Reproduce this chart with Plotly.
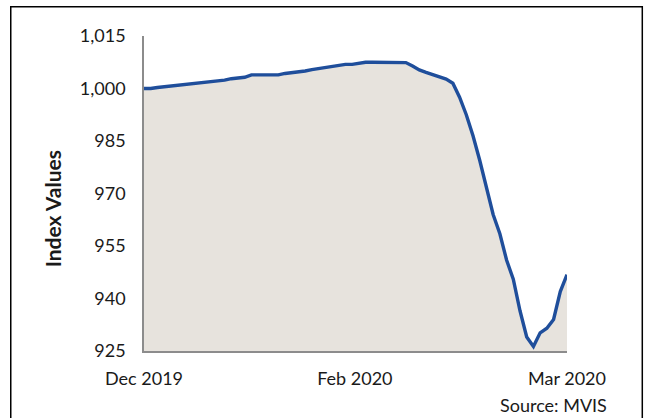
"""
MVIS index values, Dec 2019 - Mar 2020, filled line chart.
"""

import plotly.graph_objects as go

# daily index values
index_values = [
    1000.0, 1000.0, 1000.3, 1000.5, 1000.8, 1001.0, 1001.2, 1001.2, 1001.5, 1001.8,
    1002.0, 1002.2, 1002.4, 1002.8, 1003.0, 1003.2, 1003.9, 1003.9, 1003.9, 1003.9,
    1003.9, 1004.3, 1004.5, 1004.8, 1005.0, 1005.4, 1005.7, 1006.0, 1006.2, 1006.5,
    1006.9, 1006.9, 1007.2, 1007.5, 1007.5, 1007.5, 1007.5, 1007.5, 1007.5, 1007.4,
    1006.4, 1005.3, 1004.6, 1003.9, 1003.3, 1002.7, 1001.5, 997.5, 992.5, 986.5,
    979.5, 972.0, 964.0, 958.5, 951.0, 945.5, 936.5, 929.0, 926.3, 930.2,
    931.5, 934.0, 942.0, 946.8,
]
day_index = list(range(len(index_values)))

month_labels = ["Dec 2019", "Feb 2020", "Mar 2020"]
month_positions = [0, 31.4, 63]

y_ticks = [925, 940, 955, 970, 985, 1000, 1015]

LINE_COLOR = "#1F4E9B"
FILL_COLOR = "#E7E3DD"
AXIS_COLOR = "#8C8C8C"
FONT = "Lato, Carlito, Calibri, sans-serif"

fig = go.Figure()

fig.add_trace(
    go.Scatter(
        x=day_index,
        y=index_values,
        mode="lines",
        fill="tozeroy",
        fillcolor=FILL_COLOR,
        line=dict(color=LINE_COLOR, width=3.4),
        hoverinfo="skip",
        showlegend=False,
    )
)

fig.update_layout(
    width=648,
    height=418,
    paper_bgcolor="white",
    plot_bgcolor="white",
    margin=dict(l=144, r=81, t=36, b=67),
    font=dict(family=FONT, size=18, color="#1A1A1A"),
    xaxis=dict(
        range=[0, len(index_values) - 1],
        tickvals=month_positions,
        ticktext=month_labels,
        showgrid=False,
        zeroline=False,
        showline=True,
        linecolor=AXIS_COLOR,
        linewidth=1.5,
        ticks="",
        ticklabelstandoff=11,
    ),
    yaxis=dict(
        range=[925, 1015],
        tickvals=y_ticks,
        tickformat=",",
        showgrid=False,
        zeroline=False,
        showline=True,
        linecolor=AXIS_COLOR,
        linewidth=1.5,
        ticks="",
        ticklabelstandoff=13,
    ),
    shapes=[
        # outer chart frame
        dict(
            type="rect",
            xref="paper",
            yref="paper",
            x0=-0.315,
            x1=1.178,
            y0=-0.3,
            y1=1.093,
            line=dict(color="black", width=1.5),
            fillcolor="rgba(0,0,0,0)",
            layer="below",
        )
    ],
    annotations=[
        # y title sits a little below the plot's middle, as in the source chart
        dict(
            text="<b>Index Values</b>",
            xref="paper",
            yref="paper",
            x=-0.2175,
            y=0.453,
            textangle=-90,
            xanchor="center",
            yanchor="middle",
            showarrow=False,
            font=dict(size=21),
        ),
        dict(
            text="Source: MVIS",
            xref="paper",
            yref="paper",
            x=0.969,
            y=-0.17,
            xanchor="center",
            yanchor="middle",
            showarrow=False,
            font=dict(size=18),
        ),
    ],
)

# the page body has a default 8px margin; drop it so the chart sits at the corner
fig.write_html(
    "out.html",
    config={"displayModeBar": False},
    post_script="document.body.style.margin='0px';",
)
